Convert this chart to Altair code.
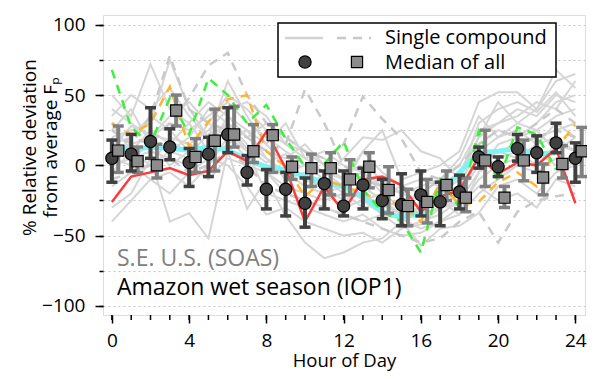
import altair as alt
import pandas as pd

hours = list(range(25))
x_major = [0, 4, 8, 12, 16, 20, 24]
y_major = [-100, -50, 0, 50, 100]
grid_vals = [-100, -75, -50, -25, 0, 25, 50, 75, 100]

# single-compound curves (light gray, solid)
gray_solid = {
    "g1": [50, 35, 72, 40, 30, 45, 35, 20, 10, 5, 15, 0, -10, 10, -5, -15, -20, -10, 5, 35, 20, 30, 40, 68, 55],
    "g2": [20, 25, 30, 75, 40, 20, 30, 15, 5, -10, -5, -20, -15, -25, -20, -30, -35, -20, -10, 20, 45, 30, 25, 35, 40],
    "g3": [-30, -20, 5, -40, -34, -52, 10, -31, -10, -36, -55, -66, -62, -55, -52, -40, -57, -45, -43, -34, -15, -10, -20, -5, 0],
    "g4": [10, 15, 20, 30, 25, 35, 45, 30, 20, 10, 0, -5, -10, -15, -25, -30, -28, -20, -15, 15, 25, 20, 30, 45, 50],
    "g5": [30, 10, 0, 20, 15, 25, 40, 45, 35, 15, 5, 10, 0, -5, -15, -20, -25, -30, -20, 5, 10, 15, 20, 25, 30],
    "g6": [0, 5, 10, 5, 0, -10, 5, 0, -5, -20, -25, -30, -35, -40, -35, -38, -45, -40, -30, -10, 0, 5, 10, 0, 5],
    "g7": [40, 30, 20, 35, 45, 30, 50, 40, 25, 15, 10, 5, -5, 0, -10, -20, -15, -10, 0, 25, 30, 35, 45, 40, 60],
    "g8": [-15, -5, 0, 10, 5, 15, 25, 10, -5, -15, -20, -25, -20, -30, -28, -35, -30, -25, -20, 0, 10, 5, 15, 20, 10],
    "g9": [15, 20, 35, 25, 10, 5, 15, 25, 15, 0, -10, -15, -25, -20, -30, -25, -35, -30, -25, 10, 20, 25, 15, 30, 20],
    "g10": [25, 40, 15, 10, 20, 40, 30, 20, 30, 20, 10, 0, -10, -5, -20, -15, -10, -15, -5, 20, 30, 40, 35, 50, 45],
    "g11": [5, 0, -10, -5, -15, 0, 20, 5, 0, -5, -15, -20, -30, -25, -35, -45, -40, -35, -25, -5, 5, 10, 0, 15, 10],
    "g12": [35, 50, 40, 55, 35, 20, 60, 35, 15, 30, 5, -5, -15, 10, 25, -10, -5, 0, 10, 45, 52, 52, 40, 60, 65],
    "g13": [-5, 10, 25, 15, 30, 10, 35, 25, 5, -5, 0, -10, -20, -15, -25, -35, -30, -25, -35, -5, 15, 20, 25, 10, 20],
    "g14": [20, 5, 15, 0, 10, 30, 20, 10, -20, -25, -30, -35, -40, -35, -45, -50, -48, -40, -35, -20, -10, 0, -5, 5, 0],
    "g15": [12, 28, 22, 18, 8, 22, 28, 12, 2, 8, -12, -8, 5, 20, 18, 25, 10, 5, -10, 30, 40, 45, 38, 52, 35],
    "g16": [-40, -25, -10, -20, -5, 5, 0, -15, -35, -30, -40, -45, -50, -48, -55, -45, -42, -30, -28, -15, -25, -20, -30, -10, -15],
}
# single-compound curves (light gray, dashed)
gray_dashed = {
    "d1": [25, 15, 35, 78, 40, 30, 25, 20, 10, 15, 54, 30, 0, -10, -15, -25, -20, -10, 0, 15, 25, 20, 30, 40, 30],
    "d2": [10, 20, 15, 30, 48, 71, 80, 50, 30, 20, 10, 5, 15, 49, 33, 19, -5, -10, -15, 5, 10, 15, 20, 25, 20],
    "d3": [-10, -5, 0, 5, -5, 0, 10, 0, -15, -20, -25, -30, -35, -40, -45, -50, -55, -52, -40, -33, -55, -33, -25, -22, -20],
}
cyan = [13, 11, 13, 12, 11, 13, 11, 4, -1, -3, -8, -12, -15, -22, -33, -37, -34, -20, -5, 9, 10, 12, 8, 9]
green = [68, 27, 15, 48, 22, 62, 50, 30, 43, 19, -1, 1, 17, -17, -33, -40, -62, -10, -30, 24, -12, 27, 22, -3]
orange = [30, 22, 30, 56, 13, 31, 47, 50, 10, -1, -22, -10, -15, -20, -25, -28, -40, -12, -28, -26, -12, -5, -15, 12, 29]
red = [-26, -8, -5, -2, -7, -4, 10, 3, 24, -2, -40, -15, -33, -10, -8, -14, -33, -22, -18, 6, -6, 2, 0, 12, -27]

# medians with ranges: S.E. U.S. (SOAS)
soas_val = [5, 8, 17, 13, 2, 8, 22, -5, -17, -17, -27, -13, -29, -14, -25, -28, -21, -26, -19, 6, -1, 12, 9, 16, 5]
soas_lo = [-12, -4, 5, 4, -15, -8, 9, -14, -31, -36, -44, -31, -36, -31, -38, -43, -36, -43, -31, -2, -8, 3, -5, 9, -12]
soas_hi = [18, 22, 41, 26, 12, 20, 41, 7, -3, -5, -9, -4, -4, -2, -10, -6, -4, -12, -7, 13, 6, 22, 21, 30, 16]
# medians with ranges: Amazon wet season (IOP1)
amz_val = [10.5, 3, 0, 39, 6, 17.5, 22, 10, 21.5, -1, -2, -2, -10, -1, -17.5, -29, -26, -14, -23, 3.5, -23, 3.5, -8.6, 1, 10]
amz_lo = [-5, -5, -9, 28, -5, -4, 13, 2, -5, -10, -15, -21, -21, -16, -34, -43, -41, -25, -33, -15, -30, -11, -21, -9, -8]
amz_hi = [28, 13, 15, 50, 19, 40, 42, 29, 29, 6, 8, 9, 4, 9, -1, -17, -10, -4, -9, 25, -15, 18, 1, 14, 27]

FONT = "Open Sans"


def long_df(d):
    rows = []
    for k, vals in d.items():
        for h, v in zip(hours, vals):
            rows.append({"hour": h, "value": v, "series": k})
    return pd.DataFrame(rows)


xs = alt.Scale(domain=[-0.46, 24.5], nice=False, zero=False)
ys = alt.Scale(domain=[-106.5, 107], nice=False, zero=False)

x_main = alt.Axis(values=x_major, tickSize=8, tickWidth=1.5, tickColor="black", labelFontSize=19,
                  labelFont=FONT, labelColor="black", labelPadding=8, title="Hour of Day",
                  titleFont=FONT, titleFontSize=18.5, titleFontWeight="normal", titleColor="black",
                  titleBaseline="alphabetic", titleY=51, domain=False, grid=False, orient="bottom")
y_main = alt.Axis(values=y_major, tickSize=8, tickWidth=1.5, tickColor="black", labelFontSize=19,
                  labelFont=FONT, labelColor="black", labelPadding=10,
                  title=["% Relative deviation", "from average Fₚ"], titleFont=FONT, titleFontSize=19,
                  titleFontWeight="normal", titleColor="black", titleX=-83, titleY=132,
                  titleBaseline="top", titleLineHeight=21, domain=False, grid=False, orient="left")
y_minor = alt.Axis(values=grid_vals, tickSize=4, tickWidth=1.5, tickColor="black", labels=False,
                   title=None, domain=False, grid=True, gridDash=[2, 3], gridColor="#c8c8c8",
                   gridWidth=1, orient="left")

gs = alt.Chart(long_df(gray_solid)).mark_line(color="#d6d6d6", strokeWidth=2).encode(
    x=alt.X("hour:Q", scale=xs, axis=x_main),
    y=alt.Y("value:Q", scale=ys, axis=y_main),
    detail="series:N",
)
gd = alt.Chart(long_df(gray_dashed)).mark_line(color="#cacaca", strokeWidth=2.5, strokeDash=[9, 7]).encode(
    x=alt.X("hour:Q", scale=xs, axis=None),
    y=alt.Y("value:Q", scale=ys, axis=y_minor),
    detail="series:N",
)

# minor hour ticks below the frame
minor_ticks = alt.Chart(pd.DataFrame({"hour": hours})).mark_tick(
    color="black", orient="vertical", size=5, thickness=1.5, opacity=1).encode(
    x=alt.X("hour:Q", scale=xs, axis=None), y=alt.value(302.5))


def single(vals, color, width, dash=None):
    df = pd.DataFrame({"hour": hours[:len(vals)], "value": vals})
    kw = dict(color=color, strokeWidth=width)
    if dash:
        kw["strokeDash"] = dash
    return alt.Chart(df).mark_line(**kw).encode(
        x=alt.X("hour:Q", scale=xs, axis=None),
        y=alt.Y("value:Q", scale=ys, axis=None),
    )


cy = single(cyan, "#7ff3f3", 5)
og = single(orange, "#ffb431", 2.5, [9, 7])
gr = single(green, "#3cf03c", 2.5, [9, 7])
rd = single(red, "#ff3a3a", 2.5)

soas = pd.DataFrame({"hour": hours, "v": soas_val, "lo": soas_lo, "hi": soas_hi})
amz = pd.DataFrame({"hour": hours, "v": amz_val, "lo": amz_lo, "hi": amz_hi})


def bars(df, color, off):
    base = alt.Chart(df).transform_calculate(xp="datum.hour + %f" % off)
    xe = alt.X("xp:Q", scale=xs, axis=None)
    rule = base.mark_rule(color=color, strokeWidth=4).encode(
        x=xe, y=alt.Y("lo:Q", scale=ys, axis=None), y2="hi:Q")
    cap_lo = base.mark_tick(color=color, orient="horizontal", size=11, thickness=3.5, opacity=1).encode(
        x=xe, y=alt.Y("lo:Q", scale=ys, axis=None))
    cap_hi = base.mark_tick(color=color, orient="horizontal", size=11, thickness=3.5, opacity=1).encode(
        x=xe, y=alt.Y("hi:Q", scale=ys, axis=None))
    return rule + cap_lo + cap_hi


amz_bars = bars(amz, "#808080", 0.33)
soas_bars = bars(soas, "#404040", 0.0)

circles = alt.Chart(soas).mark_point(shape="circle", filled=True, fill="#404040", stroke="black",
                                     strokeWidth=1.2, size=150, opacity=1).encode(
    x=alt.X("hour:Q", scale=xs, axis=None), y=alt.Y("v:Q", scale=ys, axis=None))
squares = alt.Chart(amz).transform_calculate(xp="datum.hour + 0.33").mark_point(
    shape="square", filled=True, fill="#8c8c8c", stroke="black", strokeWidth=1.2, size=125, opacity=1).encode(
    x=alt.X("xp:Q", scale=xs, axis=None), y=alt.Y("v:Q", scale=ys, axis=None))

one = pd.DataFrame({"k": [0]})

# legend
leg_box = alt.Chart(one).mark_rect(fill="white", stroke="black", strokeWidth=1.5).encode(
    x=alt.value(175), x2=alt.value(453), y=alt.value(8), y2=alt.value(62))
leg_l1 = alt.Chart(one).mark_rule(color="#d2d2d2", strokeWidth=2.5).encode(
    x=alt.value(182), x2=alt.value(220), y=alt.value(23))
leg_l2 = alt.Chart(one).mark_rule(color="#c8c8c8", strokeWidth=2.5, strokeDash=[9, 7]).encode(
    x=alt.value(234), x2=alt.value(268), y=alt.value(23))
leg_c = alt.Chart(one).mark_point(shape="circle", filled=True, fill="#404040", stroke="black",
                                  strokeWidth=1.2, size=150, opacity=1).encode(
    x=alt.value(202), y=alt.value(47))
leg_s = alt.Chart(one).mark_point(shape="square", filled=True, fill="#8c8c8c", stroke="black",
                                  strokeWidth=1.2, size=125, opacity=1).encode(
    x=alt.value(254), y=alt.value(47))
leg_t1 = alt.Chart(pd.DataFrame({"t": ["Single compound"]})).mark_text(
    font=FONT, fontSize=20, align="left", baseline="alphabetic", color="black").encode(
    text="t:N", x=alt.value(282), y=alt.value(29))
leg_t2 = alt.Chart(pd.DataFrame({"t": ["Median of all"]})).mark_text(
    font=FONT, fontSize=20, align="left", baseline="alphabetic", color="black").encode(
    text="t:N", x=alt.value(282), y=alt.value(54))

ann1 = alt.Chart(pd.DataFrame({"t": ["S.E. U.S. (SOAS)"]})).mark_text(
    font=FONT, fontSize=23, align="left", baseline="alphabetic", color="#808080").encode(
    text="t:N", x=alt.value(14), y=alt.value(251))
ann2 = alt.Chart(pd.DataFrame({"t": ["Amazon wet season (IOP1)"]})).mark_text(
    font=FONT, fontSize=23, align="left", baseline="alphabetic", color="black").encode(
    text="t:N", x=alt.value(14), y=alt.value(280))

chart = alt.layer(
    gs, gd, cy, og, gr, rd, amz_bars, soas_bars, circles, squares, minor_ticks,
    leg_box, leg_l1, leg_l2, leg_c, leg_s, leg_t1, leg_t2, ann1, ann2,
).resolve_axis(x="independent", y="independent").properties(
    width=482, height=300,
    autosize=alt.AutoSizeParams(type="none"),
    padding={"left": 95, "top": 7, "right": 2, "bottom": 56},
).configure_view(stroke="black", strokeWidth=2).configure(font=FONT)

chart.save("out.html", embed_options={"renderer": "svg", "actions": False})
